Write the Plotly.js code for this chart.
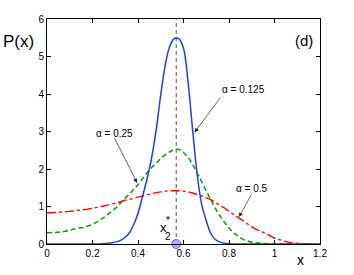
<!DOCTYPE html>
<html>
<head>
<meta charset="utf-8">
<script src="https://cdn.plot.ly/plotly-3.0.1.min.js"></script>
<style>html,body{margin:0;padding:0;background:#fff;}#chart{width:354px;height:275px;}</style>
</head>
<body>
<div id="chart"></div>
<script>
const xs = [0.00,0.02,0.04,0.06,0.08,0.10,0.12,0.14,0.16,0.18,0.20,0.22,0.24,0.26,0.28,0.30,0.32,0.34,0.36,0.38,0.40,0.42,0.44,0.46,0.48,0.50,0.52,0.54,0.56,0.58,0.60,0.62,0.64,0.66,0.68,0.70,0.72,0.74,0.76,0.78,0.80,0.82,0.84,0.86,0.88,0.90,0.92,0.94,0.96,0.98,1.00,1.02,1.04,1.06,1.08,1.10,1.12,1.14,1.16,1.18,1.20];
const alpha0125 = [0,0,0,0,0,0,0,0,0,0,0,0.002,0.005,0.012,0.025,0.05,0.09,0.16,0.28,0.50,0.82,1.27,1.74,2.30,3.05,3.98,4.78,5.28,5.48,5.47,5.22,4.32,3.05,1.86,1.05,0.62,0.28,0.12,0.05,0.02,0.006,0.002,0,0,0,0,0,0,0,0,0,0,0,0,0,0,0,0,0,0,0];
const alpha025 = [0.30,0.30,0.31,0.32,0.34,0.37,0.40,0.43,0.44,0.48,0.53,0.59,0.67,0.75,0.85,0.95,1.07,1.20,1.32,1.45,1.58,1.74,1.90,2.04,2.16,2.28,2.38,2.46,2.52,2.52,2.44,2.31,2.12,1.90,1.66,1.42,1.18,0.95,0.75,0.58,0.43,0.30,0.21,0.13,0.08,0.05,0.03,0.02,0.01,0.006,0.003,0.001,0,0,0,0,0,0,0,0,0];
const alpha05 = [0.83,0.835,0.84,0.85,0.86,0.87,0.885,0.90,0.915,0.93,0.95,0.975,1.00,1.03,1.06,1.09,1.12,1.16,1.19,1.22,1.25,1.28,1.31,1.34,1.37,1.39,1.41,1.42,1.42,1.42,1.41,1.39,1.36,1.32,1.28,1.23,1.18,1.11,1.03,0.96,0.87,0.79,0.71,0.63,0.54,0.46,0.39,0.34,0.28,0.22,0.16,0.12,0.08,0.05,0.03,0.02,0.01,0.005,0.002,0,0];
const x2star = 0.568;
const xTicks = [0,0.2,0.4,0.6,0.8,1,1.2];
const xTickLabels = ['0','0.2','0.4','0.6','0.8','1','1.2'];
const yTicks = [0,1,2,3,4,5,6];

const font = 'Liberation Sans, Arial, Helvetica, sans-serif';

const traces = [
  {x:[x2star,x2star], y:[0,6], mode:'lines', line:{color:'#555', width:1, dash:'4px,3px'}, hoverinfo:'skip'},
  {x:xs, y:alpha05, mode:'lines', line:{color:'rgb(255,0,0)', width:1.4, dash:'dashdot', shape:'spline'}},
  {x:xs, y:alpha025, mode:'lines', line:{color:'rgb(20,160,20)', width:1.6, dash:'5px,3px', shape:'spline'}},
  {x:xs, y:alpha0125, mode:'lines', line:{color:'rgb(30,60,255)', width:1.5, shape:'spline'}},
  {x:[x2star], y:[0], mode:'markers', marker:{size:9, color:'rgb(185,165,255)', line:{color:'rgb(110,90,255)', width:1}}, cliponaxis:false}
];

function arrow(tx, ty, hx, hy){
  return {x:hx, y:hy, xref:'x', yref:'y', ax:tx, ay:ty, axref:'x', ayref:'y', text:'', showarrow:true,
          arrowhead:2, arrowsize:1.2, arrowwidth:0.7, arrowcolor:'#222', standoff:0, startstandoff:0};
}
function label(t, x, y, size, ref){
  return {x:x, y:y, xref:ref||'x', yref:ref||'y', text:t, showarrow:false, font:{family:font, size:size, color:'#000'}, xanchor:'center', yanchor:'middle'};
}

const layout = {
  width:354, height:275,
  margin:{l:47, r:34, t:19, b:31},
  paper_bgcolor:'#fff', plot_bgcolor:'#fff',
  showlegend:false,
  font:{family:font, size:10, color:'#000'},
  xaxis:{range:[0,1.2], tickvals:xTicks, ticktext:xTickLabels, ticks:'inside', ticklen:4, tickcolor:'#000',
         showline:true, linecolor:'#000', linewidth:1, mirror:'ticks', showgrid:false, zeroline:false,
         tickfont:{family:font, size:10}},
  yaxis:{range:[0,6], tickvals:yTicks, ticks:'inside', ticklen:4, tickcolor:'#000',
         showline:true, linecolor:'#000', linewidth:1, mirror:'ticks', showgrid:false, zeroline:false,
         tickfont:{family:font, size:10}},
  annotations:[
    arrow(0.767, 3.94, 0.649, 2.98),
    arrow(0.293, 2.87, 0.396, 1.63),
    arrow(0.902, 1.36, 0.844, 0.72),
    label('α = 0.125', 0.863, 4.11, 10),
    label('α = 0.25', 0.296, 2.96, 10),
    label('α = 0.5', 0.902, 1.49, 10),
    label('x', 0.511, 0.43, 13),
    label('2', 0.531, 0.19, 10),
    label('*', 0.531, 0.62, 10),
    label('P(x)', -0.104, 0.9, 17, 'paper'),
    label('x', 0.928, -0.07, 14, 'paper'),
    label('(d)', 0.94, 0.905, 15, 'paper')
  ]
};

Plotly.newPlot('chart', traces, layout, {displayModeBar:false, staticPlot:true});
</script>
</body>
</html>
